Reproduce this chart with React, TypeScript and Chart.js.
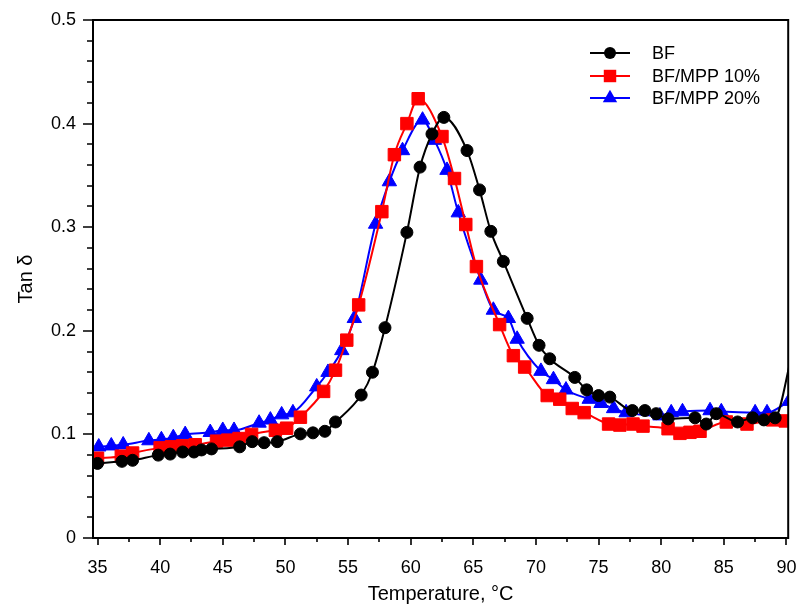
import { useEffect, useRef } from 'react';
import { Chart, registerables } from 'chart.js';

Chart.register(...registerables);

// ---- Data ----
const seriesNames = ['BF', 'BF/MPP 10%', 'BF/MPP 20%'];

const bfTemp = [35.0, 36.95, 37.8, 39.85, 40.8, 41.8, 42.7, 43.3, 44.1, 46.35, 47.35, 48.3, 49.35, 51.2, 52.2, 53.15, 54.0, 56.05, 56.95, 57.95, 59.7, 60.75, 61.7, 62.65, 64.5, 65.5, 66.4, 67.4, 69.3, 70.25, 71.1, 73.1, 74.05, 75.0, 75.9, 77.7, 78.7, 79.6, 80.55, 82.7, 83.6, 84.4, 86.1, 87.3, 88.2, 89.1, 90.4];
const bfTan = [0.072, 0.074, 0.075, 0.080, 0.081, 0.083, 0.083, 0.085, 0.086, 0.088, 0.093, 0.092, 0.093, 0.1005, 0.1015, 0.103, 0.112, 0.138, 0.160, 0.203, 0.295, 0.358, 0.390, 0.406, 0.374, 0.336, 0.296, 0.267, 0.212, 0.186, 0.173, 0.155, 0.143, 0.1375, 0.136, 0.123, 0.123, 0.120, 0.115, 0.116, 0.110, 0.120, 0.112, 0.116, 0.114, 0.116, 0.175];
// last BF point is the unmarked upturn at the right edge
const bfMarked = bfTemp.map((_, i) => i < bfTemp.length - 1);

const mpp10Temp = [35.0, 36.9, 37.8, 40.0, 40.9, 41.8, 42.8, 44.5, 45.4, 46.3, 47.3, 49.2, 50.1, 51.2, 53.05, 54.0, 54.9, 55.85, 57.7, 58.7, 59.7, 60.6, 62.5, 63.5, 64.4, 65.25, 67.1, 68.2, 69.1, 70.9, 71.9, 72.9, 73.85, 75.8, 76.7, 77.75, 78.55, 80.55, 81.5, 82.3, 83.1, 85.2, 86.85, 88.9, 89.9];
const mpp10Tan = [0.077, 0.079, 0.082, 0.087, 0.088, 0.089, 0.090, 0.0935, 0.0945, 0.096, 0.100, 0.104, 0.106, 0.1166, 0.1415, 0.162, 0.191, 0.225, 0.315, 0.370, 0.400, 0.424, 0.3875, 0.347, 0.3026, 0.262, 0.206, 0.176, 0.165, 0.1375, 0.134, 0.125, 0.121, 0.110, 0.109, 0.110, 0.108, 0.1055, 0.101, 0.102, 0.103, 0.112, 0.110, 0.114, 0.113];

const mpp20Temp = [35.1, 36.1, 37.05, 39.1, 40.1, 41.05, 42.0, 44.0, 45.0, 45.9, 47.9, 48.8, 49.7, 50.6, 52.5, 53.4, 54.5, 55.5, 57.2, 58.3, 59.35, 60.95, 61.9, 62.9, 63.8, 65.6, 66.6, 67.8, 68.5, 70.4, 71.4, 72.4, 74.25, 75.2, 76.2, 77.2, 79.9, 80.8, 81.7, 83.9, 84.8, 87.5, 88.45, 90.2];
const mpp20Tan = [0.088, 0.089, 0.090, 0.094, 0.095, 0.097, 0.100, 0.102, 0.104, 0.104, 0.111, 0.114, 0.119, 0.121, 0.146, 0.160, 0.181, 0.212, 0.303, 0.344, 0.374, 0.4035, 0.384, 0.355, 0.314, 0.249, 0.220, 0.212, 0.192, 0.161, 0.153, 0.143, 0.134, 0.130, 0.125, 0.121, 0.118, 0.121, 0.122, 0.123, 0.122, 0.121, 0.121, 0.132];

const xTickValues = [35, 40, 45, 50, 55, 60, 65, 70, 75, 80, 85, 90];
const xMinorTickValues = [37.5, 42.5, 47.5, 52.5, 57.5, 62.5, 67.5, 72.5, 77.5, 82.5, 87.5];
const yTickValues = [0, 0.1, 0.2, 0.3, 0.4, 0.5];
const yMinorTickValues = [0.02, 0.04, 0.06, 0.08, 0.12, 0.14, 0.16, 0.18, 0.22, 0.24, 0.26, 0.28, 0.32, 0.34, 0.36, 0.38, 0.42, 0.44, 0.46, 0.48];

const xTitle = 'Temperature, °C';
const yTitle = 'Tan δ';

const colors = ['#000000', '#ff0000', '#0000ff'];
const pointStyles = ['circle', 'rect', 'triangle'];
const pointSizes = [6, 8.8, 8.3];

const FONT = '"Liberation Sans", Arial, sans-serif';

function toPoints(xs: number[], ys: number[]) {
  return xs.map((x, i) => ({ x, y: ys[i] }));
}

function drawMarker(ctx: CanvasRenderingContext2D, style: string, x: number, y: number, r: number) {
  ctx.beginPath();
  if (style === 'circle') {
    ctx.arc(x, y, r, 0, Math.PI * 2);
  } else if (style === 'rect') {
    const s = Math.SQRT1_2 * r;
    ctx.rect(x - s, y - s, 2 * s, 2 * s);
  } else {
    ctx.moveTo(x, y - r);
    ctx.lineTo(x + Math.sin((2 * Math.PI) / 3) * r, y + r / 2);
    ctx.lineTo(x - Math.sin((2 * Math.PI) / 3) * r, y + r / 2);
    ctx.closePath();
  }
  ctx.fill();
}

const framePlugin = {
  id: 'frameTicksLegend',
  afterDatasetsDraw(chart: any) {
    const { ctx, chartArea } = chart;
    const xs = chart.scales.x;
    const ys = chart.scales.y;
    ctx.save();
    ctx.strokeStyle = '#000';
    ctx.lineWidth = 2;
    ctx.strokeRect(chartArea.left, chartArea.top, chartArea.right - chartArea.left, chartArea.bottom - chartArea.top);
    ctx.lineWidth = 1.6;
    ctx.beginPath();
    xTickValues.forEach((v) => {
      const px = Math.round(xs.getPixelForValue(v));
      ctx.moveTo(px, chartArea.bottom);
      ctx.lineTo(px, chartArea.bottom + 7);
    });
    xMinorTickValues.forEach((v) => {
      const px = Math.round(xs.getPixelForValue(v));
      ctx.moveTo(px, chartArea.bottom);
      ctx.lineTo(px, chartArea.bottom + 4);
    });
    yTickValues.forEach((v) => {
      const py = Math.round(ys.getPixelForValue(v));
      ctx.moveTo(chartArea.left, py);
      ctx.lineTo(chartArea.left - 10, py);
    });
    yMinorTickValues.forEach((v) => {
      const py = Math.round(ys.getPixelForValue(v));
      ctx.moveTo(chartArea.left, py);
      ctx.lineTo(chartArea.left - 6, py);
    });
    ctx.stroke();

    // legend (line + marker)
    const legendX = 590;
    const legendRowsY = [53, 76, 98];
    ctx.font = `18px ${FONT}`;
    ctx.textBaseline = 'middle';
    ctx.textAlign = 'left';
    seriesNames.forEach((name, i) => {
      const y = legendRowsY[i];
      ctx.strokeStyle = colors[i];
      ctx.fillStyle = colors[i];
      ctx.lineWidth = 2;
      ctx.beginPath();
      ctx.moveTo(legendX, y);
      ctx.lineTo(legendX + 40, y);
      ctx.stroke();
      drawMarker(ctx, pointStyles[i], legendX + 20, y, pointSizes[i]);
      ctx.fillStyle = '#000';
      ctx.fillText(name, 652, y + 1);
    });
    ctx.restore();
  },
};

export default function App() {
  const canvasRef = useRef<HTMLCanvasElement | null>(null);

  useEffect(() => {
    document.body.style.margin = '0';
    const canvas = canvasRef.current;
    if (!canvas) return;

    const datasets = [
      { label: seriesNames[0], data: toPoints(bfTemp, bfTan), marked: bfMarked },
      { label: seriesNames[1], data: toPoints(mpp10Temp, mpp10Tan), marked: null },
      { label: seriesNames[2], data: toPoints(mpp20Temp, mpp20Tan), marked: null },
    ].map((d, i) => ({
      label: d.label,
      data: d.data,
      borderColor: colors[i],
      backgroundColor: colors[i],
      pointBackgroundColor: colors[i],
      pointBorderColor: colors[i],
      pointBorderWidth: 1,
      pointStyle: pointStyles[i] as any,
      pointRadius: d.marked ? d.marked.map((m) => (m ? pointSizes[i] : 0)) : pointSizes[i],
      pointHoverRadius: pointSizes[i],
      borderWidth: 2,
      cubicInterpolationMode: 'monotone' as const,
      fill: false,
    }));

    const chart = new Chart(canvas, {
      type: 'line',
      data: { datasets },
      options: {
        animation: false,
        responsive: false,
        maintainAspectRatio: false,
        layout: { padding: { top: 20, right: 8, left: 0, bottom: 0 } },
        plugins: {
          legend: { display: false },
          tooltip: { enabled: false },
        },
        scales: {
          x: {
            type: 'linear',
            min: 34.64,
            max: 90.14,
            grid: { display: false },
            border: { display: false },
            afterBuildTicks: (scale: any) => {
              scale.ticks = xTickValues.map((v) => ({ value: v }));
            },
            afterFit: (scale: any) => {
              scale.height = 68;
              scale.paddingLeft = 0;
              scale.paddingRight = 0;
            },
            ticks: {
              color: '#000',
              padding: 11,
              maxRotation: 0,
              autoSkip: false,
              font: { family: FONT, size: 18 },
              callback: (v: any) => String(v),
            },
            title: {
              display: true,
              text: xTitle,
              color: '#000',
              padding: { top: 0, bottom: 0 },
              font: { family: FONT, size: 20 },
            },
          },
          y: {
            type: 'linear',
            min: 0,
            max: 0.5,
            grid: { display: false },
            border: { display: false },
            afterBuildTicks: (scale: any) => {
              scale.ticks = yTickValues.map((v) => ({ value: v }));
            },
            afterFit: (scale: any) => {
              scale.width = 93;
              scale.paddingTop = 0;
              scale.paddingBottom = 0;
            },
            ticks: {
              color: '#000',
              padding: 9,
              autoSkip: false,
              font: { family: FONT, size: 18 },
              callback: (v: any) => String(Math.round(Number(v) * 10) / 10),
            },
            title: {
              display: true,
              text: yTitle,
              color: '#000',
              padding: { top: 14, bottom: 0 },
              font: { family: FONT, size: 20 },
            },
          },
        },
      },
      plugins: [framePlugin],
    });

    return () => {
      chart.destroy();
    };
  }, []);

  return (
    <div style={{ width: 798, height: 606, background: '#fff' }}>
      <canvas ref={canvasRef} width={798} height={606} style={{ display: 'block' }} />
    </div>
  );
}
